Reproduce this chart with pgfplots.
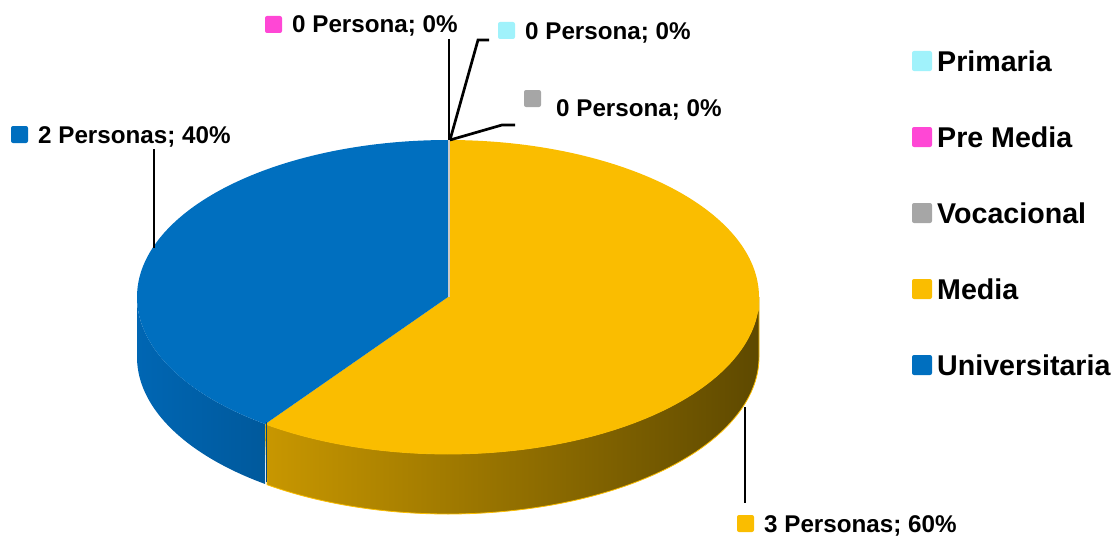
\documentclass[border=0pt]{standalone}
\usepackage{pgfplots}
\pgfplotsset{compat=1.18}
\usepackage{pgfplotstable}
\usepackage{fontspec}
\setmainfont{Liberation Sans}
\definecolor{cYel}{HTML}{FABD00}
\definecolor{cBlue}{HTML}{006FBF}
\definecolor{cCyan}{HTML}{A0F2FB}
\definecolor{cMag}{HTML}{FF47D5}
\definecolor{cGray}{HTML}{A6A6A6}
\definecolor{yL}{HTML}{C89700}
\definecolor{yM}{HTML}{7E6000}
\definecolor{yR}{HTML}{5E4900}
\definecolor{bL}{HTML}{0066B3}
\definecolor{bR}{HTML}{00599C}

\pgfplotstableread[col sep=comma]{
cat,value
Primaria,0
Pre Media,0
Vocacional,0
Media,3
Universitaria,2
}\datatable
\pgfplotstablegetelem{0}{value}\of\datatable \let\vPri\pgfplotsretval
\pgfplotstablegetelem{1}{value}\of\datatable \let\vPre\pgfplotsretval
\pgfplotstablegetelem{2}{value}\of\datatable \let\vVoc\pgfplotsretval
\pgfplotstablegetelem{3}{value}\of\datatable \let\vMed\pgfplotsretval
\pgfplotstablegetelem{4}{value}\of\datatable \let\vUni\pgfplotsretval
\pgfmathsetmacro\tot{\vPri+\vPre+\vVoc+\vMed+\vUni}
% start angle (12 o'clock) and cumulative angles, clockwise (y axis reversed)
\pgfmathsetmacro\aZero{-90+360*(\vPri+\vPre+\vVoc)/\tot}
\pgfmathsetmacro\aMed{\aZero+360*\vMed/\tot}
\pgfmathsetmacro\aUni{\aMed+360*\vUni/\tot}

\begin{document}
\begin{tikzpicture}
\begin{axis}[scale only axis, width=1115pt, height=535pt,
  xmin=0, xmax=1115, ymin=0, ymax=535, y dir=reverse,
  hide axis, clip=false]
% side walls (front half, t in [0,180])
\addplot[left color=yL, middle color=yM, right color=yR, draw=cYel, line width=0.8pt,
  domain=0:2, samples=601, variable=\s]
  ({448+311*cos(\s<=1 ? 0+(\aMed-0)*\s : \aMed-(\aMed-0)*(\s-1))},
   {297+157*sin(\s<=1 ? 0+(\aMed-0)*\s : \aMed-(\aMed-0)*(\s-1)) + (\s>1 ? 60 : 0)}) -- cycle;
\addplot[left color=bL, right color=bR, draw=none,
  domain=0:2, samples=401, variable=\s]
  ({448+311*cos(\s<=1 ? \aMed+(180-\aMed)*\s : 180-(180-\aMed)*(\s-1))},
   {297+157*sin(\s<=1 ? \aMed+(180-\aMed)*\s : 180-(180-\aMed)*(\s-1)) + (\s>1 ? 60 : 0)}) -- cycle;
% top face sectors
\addplot[fill=cYel, draw=none, domain=\aZero:\aMed, samples=200, variable=\t]
  ({448+311*cos(\t)}, {297+157*sin(\t)}) -- (axis cs:448,297) -- cycle;
\addplot[fill=cBlue, draw=none, domain=\aMed:\aUni, samples=200, variable=\t]
  ({448+311*cos(\t)}, {297+157*sin(\t)}) -- (axis cs:448,297) -- cycle;
% seam lines
\draw[color=bR!80!black, line width=1.5pt] (axis cs:266.5,422) -- (axis cs:266.5,482);
\draw[color=cGray!60, line width=1.8pt] (axis cs:449,297) -- (axis cs:449,140);

% leader lines
\draw[line width=2.7pt] (axis cs:154,149) -- (axis cs:154,248);
\draw[line width=2.7pt] (axis cs:449,39) -- (axis cs:449,140);
\draw[line width=2.7pt] (axis cs:450,140) -- (axis cs:478,40) -- (axis cs:489,40);
\draw[line width=2.7pt] (axis cs:450,140) -- (axis cs:502,125) -- (axis cs:515,125);
\draw[line width=2.7pt] (axis cs:745,407) -- (axis cs:745,503);

% data labels
\fill[cBlue, rounded corners=2pt] (axis cs:11,126) rectangle (axis cs:28,143);
\node[anchor=base west, inner sep=0pt, font=\fontsize{24.2}{28}\selectfont\bfseries] at (axis cs:38,143) {2 Personas; 40\%};
\fill[cMag, rounded corners=2pt] (axis cs:265,16) rectangle (axis cs:282,33);
\node[anchor=base west, inner sep=0pt, font=\fontsize{24.2}{28}\selectfont\bfseries] at (axis cs:292,33) {0 Persona; 0\%};
\fill[cCyan, rounded corners=2pt] (axis cs:498,22) rectangle (axis cs:515,39);
\node[anchor=base west, inner sep=0pt, font=\fontsize{24.2}{28}\selectfont\bfseries] at (axis cs:525,40) {0 Persona; 0\%};
\fill[cGray, rounded corners=2pt] (axis cs:524,90) rectangle (axis cs:541,107);
\node[anchor=base west, inner sep=0pt, font=\fontsize{24.2}{28}\selectfont\bfseries] at (axis cs:556,116) {0 Persona; 0\%};
\fill[cYel, rounded corners=2pt] (axis cs:737,515) rectangle (axis cs:754,532);
\node[anchor=base west, inner sep=0pt, font=\fontsize{24.2}{28}\selectfont\bfseries] at (axis cs:764,532) {3 Personas; 60\%};

% legend
\fill[cCyan, rounded corners=2pt] (axis cs:912,51) rectangle (axis cs:932,71);
\node[anchor=base west, inner sep=0pt, font=\fontsize{28.6}{32}\selectfont\bfseries] at (axis cs:937,71) {Primaria};
\fill[cMag, rounded corners=2pt] (axis cs:912,127) rectangle (axis cs:932,147);
\node[anchor=base west, inner sep=0pt, font=\fontsize{28.6}{32}\selectfont\bfseries] at (axis cs:937,147) {Pre Media};
\fill[cGray, rounded corners=2pt] (axis cs:912,203) rectangle (axis cs:932,223);
\node[anchor=base west, inner sep=0pt, font=\fontsize{28.6}{32}\selectfont\bfseries] at (axis cs:937,223) {Vocacional};
\fill[cYel, rounded corners=2pt] (axis cs:912,279) rectangle (axis cs:932,299);
\node[anchor=base west, inner sep=0pt, font=\fontsize{28.6}{32}\selectfont\bfseries] at (axis cs:937,299) {Media};
\fill[cBlue, rounded corners=2pt] (axis cs:912,355) rectangle (axis cs:932,375);
\node[anchor=base west, inner sep=0pt, font=\fontsize{28.6}{32}\selectfont\bfseries] at (axis cs:937,375) {Universitaria};
\end{axis}
\pgfresetboundingbox
\useasboundingbox (current axis.south west) rectangle (current axis.north east);
\end{tikzpicture}
\end{document}
